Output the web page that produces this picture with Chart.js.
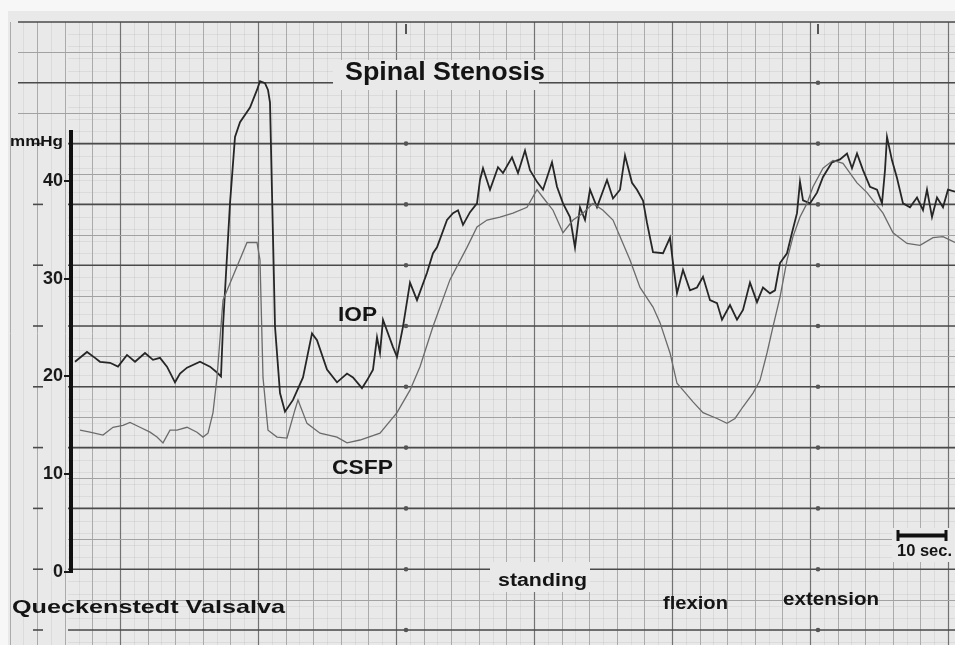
<!DOCTYPE html>
<html>
<head>
<meta charset="utf-8">
<title>Spinal Stenosis</title>
<script src="https://cdn.jsdelivr.net/npm/chart.js@4.4.1/dist/chart.umd.min.js"></script>
<style>
  html, body { margin: 0; padding: 0; background: #ffffff; }
  canvas { display: block; }
</style>
</head>
<body>
<canvas id="trace" width="955" height="645"></canvas>
<script>
// Recording time in seconds, pressure in mmHg.
const iopTime = [0.4, 2.8, 4.4, 5.4, 7.4, 9.0, 10.8, 12.4, 14.4, 16.0, 17.4, 18.8, 20.4, 21.4, 22.8, 25.4, 27.4, 28.8, 29.6,
  30.0, 31.4, 32.4, 33.4, 35.4, 36.8, 37.4, 38.4, 39.0, 39.4, 39.8, 40.4, 41.4, 42.4, 44.0, 46.0, 47.8, 48.8, 50.8, 52.8,
  54.8, 56.0, 57.8, 58.8, 60.0, 60.8, 61.4, 62.0, 64.0, 64.8, 66.0, 67.4, 68.8, 70.8, 72.0, 72.8, 74.8, 76.0, 77.0, 78.0,
  79.4, 80.8, 81.4, 82.0, 83.4, 85.0, 86.0, 87.8, 89.0, 90.4, 91.4, 92.8, 94.0, 95.8, 96.8, 98.0, 99.4, 100.4, 101.4,
  102.4, 103.4, 104.8, 106.8, 108.0, 109.4, 110.4, 111.8, 112.8, 114.0, 114.8, 116.0, 118.0, 119.4, 120.0, 120.8, 122.0,
  123.4, 124.8, 126.0, 127.4, 128.8, 129.8, 131.4, 132.8, 134.0, 135.4, 136.8, 138.0, 139.4, 140.4, 141.4, 142.8, 143.8,
  144.8, 145.4, 146.0, 147.4, 148.8, 150.0, 151.8, 153.4, 154.8, 155.8, 156.8, 158.0, 159.4, 160.8, 161.8, 162.4, 162.8,
  163.8, 164.8, 166.0, 167.4, 168.8, 170.0, 170.8, 171.8, 172.8, 174.0, 175.0, 176.4];
const iopValue = [21.5, 22.5, 21.9, 21.5, 21.4, 21.0, 22.2, 21.5, 22.4, 21.7, 21.9, 21.0, 19.4, 20.3, 20.9, 21.5, 21.0, 20.4, 20.0,
  25.1, 37.7, 44.5, 46.0, 47.5, 49.3, 50.2, 50.0, 49.3, 48.0, 38.8, 25.1, 18.3, 16.4, 17.6, 19.9, 24.4, 23.7, 20.7, 19.4,
  20.3, 19.9, 18.8, 19.6, 20.7, 24.0, 22.4, 25.8, 23.0, 22.0, 25.1, 29.6, 27.8, 30.6, 32.6, 33.2, 36.0, 36.7, 37.0, 35.5,
  36.8, 37.7, 40.1, 41.3, 39.1, 41.4, 40.8, 42.4, 40.8, 43.1, 41.1, 39.9, 39.1, 41.9, 39.4, 37.7, 36.3, 33.2, 37.3,
  36.0, 39.1, 37.3, 40.1, 38.2, 39.1, 42.6, 39.8, 39.1, 38.0, 35.7, 32.7, 32.6, 34.2, 31.6, 28.5, 30.9,
  28.8, 29.1, 30.2, 27.8, 27.5, 25.8, 27.3, 25.8, 26.8, 29.6, 27.6, 29.1, 28.5, 28.8, 31.6, 32.6, 34.7,
  36.7, 39.9, 38.0, 37.7, 38.8, 40.4, 41.9, 42.2, 42.8, 41.3, 42.8, 41.1, 39.4, 39.1, 37.7, 41.1, 44.5,
  42.1, 40.3, 37.7, 37.3, 38.3, 37.0, 39.1, 36.3, 38.3, 37.3, 39.1, 38.9];

const csfpTime = [1.4, 3.4, 6.0, 8.0, 10.0, 11.4, 13.4, 15.4, 16.8, 18.0, 19.4, 20.8, 22.8, 24.8, 26.0, 27.0, 28.0, 28.8,
  30.0, 30.8, 34.8, 36.8, 37.4, 38.0, 39.0, 40.8, 42.8, 44.4, 45.0, 46.8, 49.4, 52.8, 54.8, 57.4, 61.4, 64.8, 67.4, 69.4,
  72.0, 75.4, 78.8, 80.8, 82.8, 85.4, 88.0, 90.8, 92.8, 94.0, 96.0, 98.0, 100.0, 102.0, 104.0, 106.0, 108.0, 109.4, 111.4,
  113.4, 116.0, 117.4, 119.4, 120.8, 122.0, 124.0, 126.0, 128.8, 130.8, 132.4, 134.0, 136.0, 137.4, 138.8, 140.0, 141.4,
  142.8, 144.0, 145.4, 146.8, 148.0, 150.0, 152.0, 154.0, 155.4, 156.8, 158.8, 160.0, 162.0, 164.0, 166.8, 169.4, 172.0,
  174.0, 176.4];
const csfpValue = [14.5, 14.3, 14.0, 14.8, 15.0, 15.3, 14.8, 14.3, 13.8, 13.2, 14.5, 14.5, 14.8, 14.3, 13.8, 14.2, 16.3, 19.9,
  27.8, 28.8, 33.7, 33.7, 31.9, 19.9, 14.5, 13.8, 13.7, 16.6, 17.6, 15.2, 14.2, 13.8, 13.2, 13.5, 14.2, 16.3, 18.6, 21.0,
  25.1, 29.9, 33.2, 35.3, 36.0, 36.3, 36.7, 37.3, 39.1, 38.3, 37.0, 34.7, 36.0, 36.7, 37.7, 37.0, 36.0, 34.3, 31.9,
  29.1, 27.1, 25.5, 22.4, 19.3, 18.6, 17.4, 16.3, 15.7, 15.2, 15.7, 16.9, 18.3, 19.6, 22.4, 25.1, 28.1,
  31.9, 34.3, 36.3, 37.7, 39.4, 41.3, 42.1, 41.8, 40.8, 39.8, 38.8, 38.0, 36.7, 34.7, 33.6, 33.4, 34.2,
  34.3, 33.7];

const yTicks = [0, 10, 20, 30, 40];
const timeRange = [-0.4, 176.4];
const pressureRange = [0, 45];
const scaleBarSeconds = 10;
const scaleBarStart = 164.8;

const FONT = '"Liberation Sans", Arial, sans-serif';
const PAPER = '#e9e9e9';

function toPoints(ts, vs) {
  return ts.map((t, i) => ({ x: t, y: vs[i] }));
}

// Draw a label stretched to a given width, left-aligned at x on the baseline.
function fitText(ctx, str, x, baseline, width, size, weight) {
  ctx.font = `${weight} ${size}px ${FONT}`;
  const w = ctx.measureText(str).width;
  ctx.save();
  ctx.translate(x, baseline);
  ctx.scale(width / w, 1);
  ctx.textAlign = 'left';
  ctx.textBaseline = 'alphabetic';
  ctx.fillText(str, 0, 0);
  ctx.restore();
}

function seg(ctx, x1, y1, x2, y2) {
  ctx.beginPath();
  ctx.moveTo(x1, y1);
  ctx.lineTo(x2, y2);
  ctx.stroke();
}

// Recorder chart paper behind the traces.
const paperPlugin = {
  id: 'paper',
  beforeDraw(chart) {
    const ctx = chart.ctx;
    const W = chart.width, H = chart.height;
    ctx.save();
    ctx.fillStyle = '#f7f7f7';
    ctx.fillRect(0, 0, W, H);
    ctx.fillStyle = PAPER;
    ctx.fillRect(8, 11, W - 8, H - 11);

    const H0 = 22, HS = 60.8, V0 = 9.6, VS = 27.6;

    // finest rulings
    ctx.lineWidth = 1;
    ctx.strokeStyle = 'rgba(0,0,0,0.06)';
    for (let y = H0; y < H; y += HS / 5) seg(ctx, 68, Math.round(y) + 0.5, W, Math.round(y) + 0.5);
    for (let x = V0 + VS / 2; x < W; x += VS) seg(ctx, Math.round(x) + 0.5, H0, Math.round(x) + 0.5, H);

    // vertical rulings
    for (let k = 0; V0 + k * VS < W; k++) {
      const x = Math.round(V0 + k * VS) + 0.5;
      const major = k % 5 === 4;
      ctx.strokeStyle = major ? '#727272' : '#ababab';
      ctx.lineWidth = major ? 1.2 : 1;
      seg(ctx, x, H0, x, H);
    }

    // half-step horizontal rulings
    ctx.strokeStyle = '#a2a2a2';
    ctx.lineWidth = 1;
    for (let j = 0; j < 11; j++) {
      const y = Math.round(H0 + j * HS + HS / 2) + 0.5;
      seg(ctx, j < 2 ? 18 : 68, y, W, y);
    }

    // main horizontal rulings
    ctx.strokeStyle = '#4a4a4a';
    ctx.lineWidth = 1.6;
    for (let j = 0; j < 11; j++) {
      const y = H0 + j * HS;
      seg(ctx, j < 2 ? 18 : 68, y, W, y);
      if (j >= 2) seg(ctx, 33, y, 43, y);
    }

    // marker dots on the event columns
    ctx.fillStyle = '#555';
    [406, 818].forEach(x => {
      for (let j = 1; j < 11; j++) {
        ctx.beginPath();
        ctx.arc(x, H0 + j * HS, 2.3, 0, Math.PI * 2);
        ctx.fill();
      }
      ctx.fillRect(x - 1, 24, 2, 10);
    });

    // pasted label patches
    ctx.fillStyle = PAPER;
    ctx.fillRect(333, 60, 206, 30);
    ctx.fillRect(490, 562, 100, 30);
    ctx.fillRect(892, 528, 63, 34);
    ctx.restore();
  }
};

// Title, trace names, manoeuvre labels and the time bar.
const labelPlugin = {
  id: 'labels',
  afterDraw(chart) {
    const ctx = chart.ctx;
    const xs = chart.scales.x;
    ctx.save();
    ctx.fillStyle = '#141414';
    fitText(ctx, 'Spinal Stenosis', 345, 80, 200, 25, 'bold');
    fitText(ctx, 'mmHg', 10, 146, 53, 15, 'bold');
    fitText(ctx, 'IOP', 338, 321, 39, 20, 'bold');
    fitText(ctx, 'CSFP', 332, 474, 61, 20, 'bold');
    fitText(ctx, 'Queckenstedt Valsalva', 12, 613, 273, 19, 'bold');
    fitText(ctx, 'standing', 498, 586, 89, 18, 'bold');
    fitText(ctx, 'flexion', 663, 609, 65, 18, 'bold');
    fitText(ctx, 'extension', 783, 605, 96, 18, 'bold');
    fitText(ctx, '10 sec.', 897, 556, 55, 16, 'bold');

    // 10 second bar, measured on the time axis
    const x0 = xs.getPixelForValue(scaleBarStart);
    const x1 = xs.getPixelForValue(scaleBarStart + scaleBarSeconds);
    ctx.strokeStyle = '#111';
    ctx.lineWidth = 4;
    seg(ctx, x0, 535.5, x1, 535.5);
    ctx.lineWidth = 3;
    seg(ctx, x0 + 1, 530, x0 + 1, 541);
    seg(ctx, x1 - 1, 530, x1 - 1, 541);
    ctx.restore();
  }
};

new Chart(document.getElementById('trace'), {
  type: 'line',
  data: {
    datasets: [
      {
        label: 'CSFP',
        data: toPoints(csfpTime, csfpValue),
        borderColor: '#6b6b6b',
        borderWidth: 1.3,
        pointRadius: 0,
        tension: 0,
        clip: false
      },
      {
        label: 'IOP',
        data: toPoints(iopTime, iopValue),
        borderColor: '#262626',
        borderWidth: 1.8,
        pointRadius: 0,
        tension: 0,
        clip: false
      }
    ]
  },
  options: {
    responsive: false,
    devicePixelRatio: 1,
    animation: false,
    events: [],
    layout: { padding: { left: 0, right: 0, top: 132, bottom: 73 } },
    plugins: {
      legend: { display: false },
      tooltip: { enabled: false },
      title: { display: false }
    },
    scales: {
      x: {
        type: 'linear',
        min: timeRange[0],
        max: timeRange[1],
        display: false
      },
      y: {
        type: 'linear',
        min: pressureRange[0],
        max: pressureRange[1],
        afterBuildTicks(scale) {
          scale.ticks = yTicks.map(v => ({ value: v }));
        },
        afterFit(scale) {
          scale.width = 71;
        },
        ticks: {
          color: '#1a1a1a',
          padding: 1,
          font: { family: FONT, size: 18, weight: 'bold' }
        },
        grid: {
          drawOnChartArea: false,
          drawTicks: true,
          tickLength: 7,
          color: '#1a1a1a',
          lineWidth: 2
        },
        border: { display: true, color: '#111111', width: 4 }
      }
    }
  },
  plugins: [paperPlugin, labelPlugin]
});
</script>
</body>
</html>
